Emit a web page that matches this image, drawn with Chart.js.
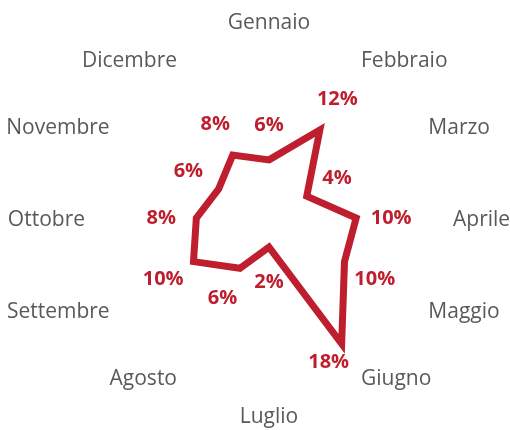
<!DOCTYPE html>
<html>
<head>
<meta charset="utf-8">
<script src="https://cdn.jsdelivr.net/npm/chart.js@4.4.1/dist/chart.umd.min.js"></script>
<style>
  html, body { margin: 0; padding: 0; background: #fff; }
  #wrap { width: 510px; height: 430px; position: relative; }
</style>
</head>
<body>
<div id="wrap"><canvas id="chart"></canvas></div>
<script>
// monthly share, percent
const months = ['Gennaio', 'Febbraio', 'Marzo', 'Aprile', 'Maggio', 'Giugno',
  'Luglio', 'Agosto', 'Settembre', 'Ottobre', 'Novembre', 'Dicembre'];
const shares = [6, 12, 4, 10, 10, 18, 2, 6, 10, 8, 6, 8];

const RED = '#BE1E2D';
const GREY = '#595959';

// month names around the radar, anchored the Excel way:
// top/bottom centred, all others vertically centred on the ring point
const monthLabels = {
  id: 'monthLabels',
  afterDraw(chart) {
    const { ctx } = chart;
    const scale = chart.scales.r;
    const n = chart.data.labels.length;
    ctx.save();
    ctx.font = "21px 'Open Sans'";
    ctx.fillStyle = GREY;
    ctx.textBaseline = 'middle';
    chart.data.labels.forEach((label, i) => {
      const p = scale.getPointPosition(i, scale.drawingArea + 6);
      let y = p.y + 2;
      if (i === 0) {
        ctx.textAlign = 'center';
        y -= 13;
      } else if (i === n / 2) {
        ctx.textAlign = 'center';
        y += 13;
      } else {
        ctx.textAlign = i < n / 2 ? 'left' : 'right';
      }
      ctx.fillText(label, p.x, y);
    });
    ctx.restore();
  },
};

// "x%" just outside each vertex, along the radial direction
const valueLabels = {
  id: 'valueLabels',
  afterDatasetsDraw(chart) {
    const { ctx } = chart;
    const scale = chart.scales.r;
    const meta = chart.getDatasetMeta(0);
    ctx.save();
    ctx.font = "bold 20px 'Open Sans'";
    ctx.fillStyle = RED;
    ctx.textAlign = 'center';
    ctx.textBaseline = 'middle';
    meta.data.forEach((pt, i) => {
      const dx = pt.x - scale.xCenter;
      const dy = pt.y - scale.yCenter;
      const len = Math.hypot(dx, dy) || 1;
      let x = pt.x + dx / len * 35;
      let y = pt.y + dy / len * 35;
      // lower-right label would sit on "Giugno", pull it under the vertex
      if (i === 5) { x = pt.x - 13; y = pt.y + 18; }
      ctx.fillText(shares[i] + '%', x, y);
    });
    ctx.restore();
  },
};

new Chart(document.getElementById('chart'), {
  type: 'radar',
  data: {
    labels: months,
    datasets: [{
      data: shares,
      borderColor: RED,
      borderWidth: 7,
      borderJoinStyle: 'miter',
      fill: false,
      pointRadius: 0,
      pointHoverRadius: 0,
      tension: 0,
    }],
  },
  options: {
    responsive: true,
    maintainAspectRatio: false,
    animation: false,
    layout: { padding: { left: 28, right: 0, top: 40, bottom: 34 } },
    plugins: {
      legend: { display: false },
      tooltip: { enabled: false },
    },
    scales: {
      r: {
        min: -2,
        max: 22.5,
        ticks: { display: false },
        grid: { display: false },
        angleLines: { display: false },
        pointLabels: { display: false },
      },
    },
  },
  plugins: [valueLabels, monthLabels],
});
</script>
</body>
</html>
